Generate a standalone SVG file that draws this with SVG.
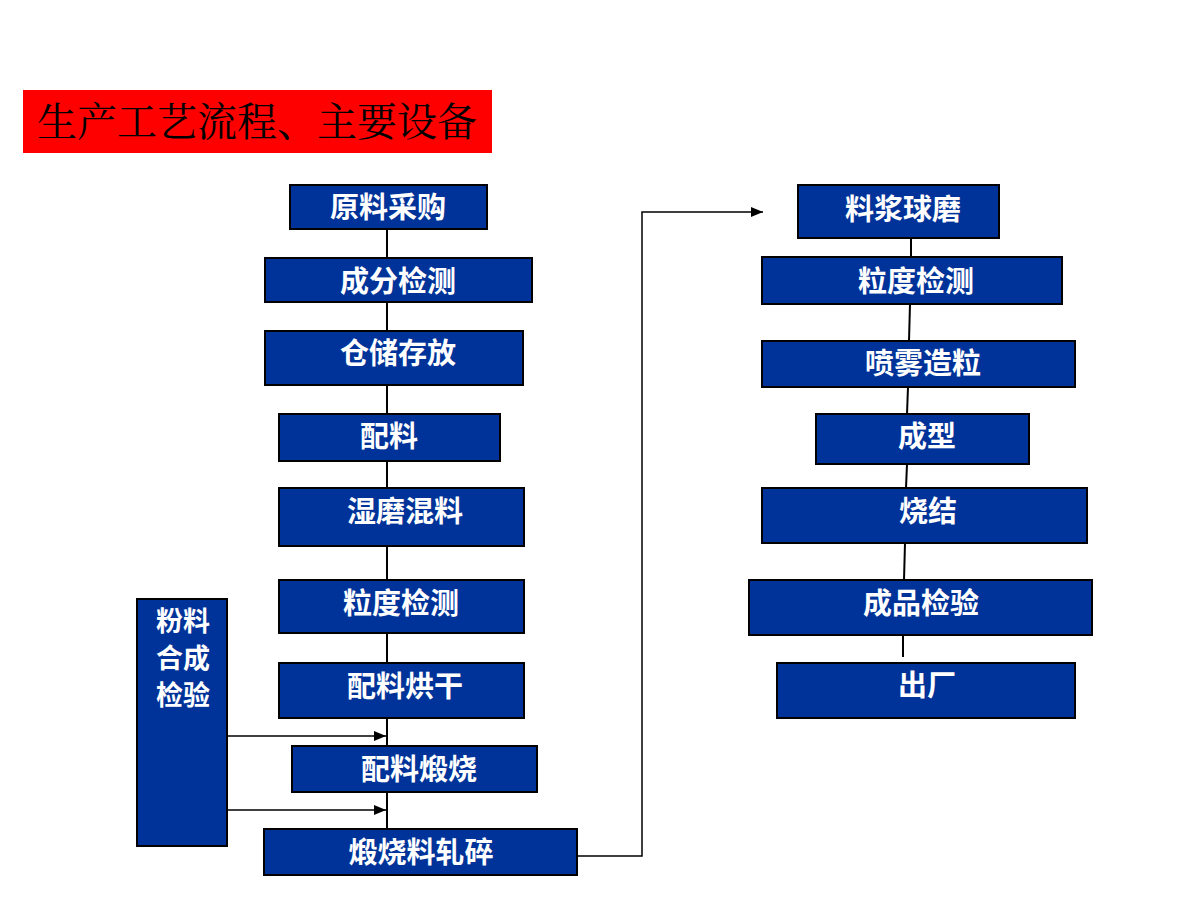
<svg xmlns="http://www.w3.org/2000/svg" width="1200" height="900" viewBox="0 0 1200 900">
<defs>
<marker id="arr" viewBox="0 0 12 10" refX="12" refY="5" markerWidth="12" markerHeight="10" markerUnits="userSpaceOnUse" orient="auto">
<path d="M0,0 L12,5 L0,10 Z" fill="#000"/>
</marker>
<style>
.box{fill:#003399;stroke:#000;stroke-width:2}
.t{fill:#fff;font-family:"Noto Sans CJK SC","Noto Sans CJK TC",sans-serif;font-weight:bold;font-size:29px;text-anchor:middle}
.v{font-size:27px}
.ln{stroke:#000;stroke-width:2;fill:none}
.ar{stroke:#000;stroke-width:1.5;fill:none;marker-end:url(#arr)}
</style>
</defs>
<rect width="1200" height="900" fill="#fff"/>
<g id="title">
<rect x="23" y="90" width="469" height="63" fill="#ff0000"/>
<text x="37" y="136" font-family="'Noto Serif CJK SC','Noto Sans CJK SC',serif" font-size="40" fill="#000">生产工艺流程、主要设备</text>
</g>
<g id="connectors">
<line class="ln" x1="387" y1="229" x2="387" y2="258"/>
<line class="ln" x1="387" y1="302" x2="387" y2="331"/>
<line class="ln" x1="387" y1="385" x2="387" y2="414"/>
<line class="ln" x1="387" y1="461" x2="387" y2="488"/>
<line class="ln" x1="387" y1="546" x2="387" y2="580"/>
<line class="ln" x1="387" y1="633" x2="387" y2="663"/>
<line class="ln" x1="387" y1="718" x2="387" y2="746"/>
<line class="ln" x1="387" y1="792" x2="387" y2="829"/>
<line class="ar" x1="227" y1="736" x2="386" y2="736"/>
<line class="ar" x1="227" y1="810" x2="386" y2="810"/>
<polyline class="ar" points="577,856 642,856 642,212 763,212"/>
<line class="ln" x1="911" y1="238" x2="911" y2="257" stroke-width="1.5"/>
<line class="ln" x1="910" y1="304" x2="909" y2="341" stroke-width="1.5"/>
<line class="ln" x1="908" y1="387" x2="907" y2="414" stroke-width="1.5"/>
<line class="ln" x1="907" y1="464" x2="906" y2="488" stroke-width="1.5"/>
<line class="ln" x1="905" y1="543" x2="904" y2="580" stroke-width="1.5"/>
<line class="ln" x1="903" y1="635" x2="903" y2="657" stroke-width="1.5"/>
</g>
<g id="n1"><rect class="box" x="290" y="185" width="197" height="44"/><text class="t" x="388" y="218">原料采购</text></g>
<g id="n2"><rect class="box" x="265" y="258" width="267" height="44"/><text class="t" x="398" y="292">成分检测</text></g>
<g id="n3"><rect class="box" x="265" y="331" width="258" height="54"/><text class="t" x="398" y="364">仓储存放</text></g>
<g id="n4"><rect class="box" x="279" y="414" width="221" height="47"/><text class="t" x="389" y="447">配料</text></g>
<g id="n5"><rect class="box" x="279" y="488" width="245" height="58"/><text class="t" x="405" y="522">湿磨混料</text></g>
<g id="n6"><rect class="box" x="279" y="580" width="245" height="53"/><text class="t" x="401" y="614">粒度检测</text></g>
<g id="n7"><rect class="box" x="279" y="663" width="245" height="55"/><text class="t" x="405" y="697">配料烘干</text></g>
<g id="n8"><rect class="box" x="292" y="746" width="245" height="46"/><text class="t" x="419" y="780">配料煅烧</text></g>
<g id="n9"><rect class="box" x="264" y="829" width="313" height="46"/><text class="t" x="421" y="863">煅烧料轧碎</text></g>
<g id="n10"><rect class="box" x="137" y="599" width="90" height="247"/>
<text class="t v" x="183" y="631">粉料</text>
<text class="t v" x="183" y="668">合成</text>
<text class="t v" x="183" y="705">检验</text></g>
<g id="r1"><rect class="box" x="798" y="185" width="201" height="53"/><text class="t" x="903" y="220">料浆球磨</text></g>
<g id="r2"><rect class="box" x="762" y="257" width="300" height="47"/><text class="t" x="916" y="292">粒度检测</text></g>
<g id="r3"><rect class="box" x="762" y="341" width="313" height="46"/><text class="t" x="923" y="374">喷雾造粒</text></g>
<g id="r4"><rect class="box" x="816" y="414" width="213" height="50"/><text class="t" x="927" y="447">成型</text></g>
<g id="r5"><rect class="box" x="762" y="488" width="325" height="55"/><text class="t" x="928" y="522">烧结</text></g>
<g id="r6"><rect class="box" x="749" y="580" width="343" height="55"/><text class="t" x="921" y="614">成品检验</text></g>
<g id="r7"><rect class="box" x="777" y="663" width="298" height="55"/><text class="t" x="927" y="696">出厂</text></g>
</svg>
